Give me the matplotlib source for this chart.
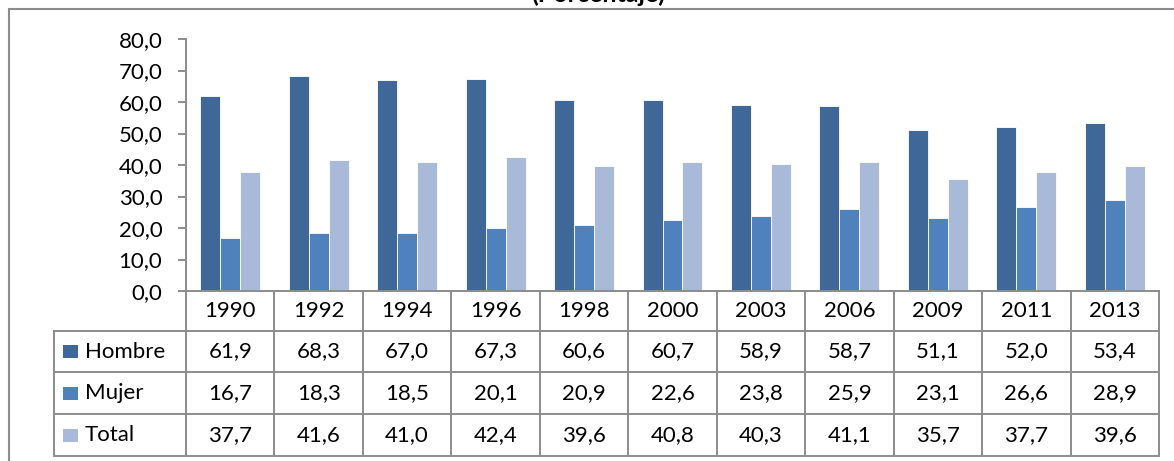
import matplotlib.pyplot as plt
from matplotlib.patches import Rectangle
from matplotlib.lines import Line2D
from matplotlib.transforms import blended_transform_factory
import numpy as np

years = ['1990', '1992', '1994', '1996', '1998', '2000', '2003', '2006', '2009', '2011', '2013']
hombre = [61.9, 68.3, 67.0, 67.3, 60.6, 60.7, 58.9, 58.7, 51.1, 52.0, 53.4]
mujer = [16.7, 18.3, 18.5, 20.1, 20.9, 22.6, 23.8, 25.9, 23.1, 26.6, 28.9]
total = [37.7, 41.6, 41.0, 42.4, 39.6, 40.8, 40.3, 41.1, 35.7, 37.7, 39.6]
series_names = ['Hombre', 'Mujer', 'Total']
colors = ['#3F6797', '#4F81BD', '#A9BAD9']

plt.rcParams['font.family'] = ['Lato', 'DejaVu Sans']
fs = 16

W, H = 1174, 461
fig = plt.figure(figsize=(W / 100, H / 100), dpi=100)


def fx(px):
    return px / W


def fy(py):
    return 1 - py / H


grid = '#8C8C8C'
x_left, x_right = 186, 1159
y_top, y_zero = 39, 291
ax = fig.add_axes([fx(x_left), fy(y_zero), fx(x_right - x_left), fy(y_top) - fy(y_zero)])

n = len(years)
x = np.arange(n)
bw = 0.226
for i, (vals, c) in enumerate(zip([hombre, mujer, total], colors)):
    ax.bar(x + (i - 1) * bw, vals, bw, color=c, edgecolor='white', linewidth=0.6, zorder=2)

ax.set_xlim(-0.5, n - 0.5)
ax.set_ylim(0, 80)
ax.set_yticks(np.arange(0, 81, 10))
ax.set_yticklabels([f'{v:.1f}'.replace('.', ',') for v in np.arange(0, 81, 10)], fontsize=fs)
ax.set_xticks([])
for s in ['top', 'right']:
    ax.spines[s].set_visible(False)
for s in ['left', 'bottom']:
    ax.spines[s].set_color(grid)
    ax.spines[s].set_linewidth(1.4)
ax.tick_params(axis='y', length=6, width=1.4, color=grid, pad=11)

# outer frame
fig.add_artist(Rectangle((fx(9), fy(470)), fx(1180), fy(9) - fy(470), transform=fig.transFigure,
                         fill=False, edgecolor=grid, linewidth=1.5))

fig.text(fx(598), fy(2), '(Porcentaje)', ha='center', va='baseline', fontsize=18, fontweight='bold')

# data table
rows = [291, 331, 372, 414, 456]
tbl_left = 54
bt = blended_transform_factory(ax.transData, fig.transFigure)
lw = 1.4
for r in rows[1:]:
    fig.add_artist(Line2D([fx(tbl_left), fx(x_right)], [fy(r), fy(r)], color=grid, lw=lw))
for b in np.arange(n + 1) - 0.5:
    fig.add_artist(Line2D([b, b], [fy(rows[0]), fy(rows[-1])], transform=bt, color=grid, lw=lw))
fig.add_artist(Line2D([fx(tbl_left), fx(tbl_left)], [fy(rows[1]), fy(rows[-1])], color=grid, lw=lw))

for j, yr in enumerate(years):
    fig.text(j, (fy(rows[0]) + fy(rows[1])) / 2, yr, transform=bt, ha='center', va='center', fontsize=fs)
for i, (name, vals, c) in enumerate(zip(series_names, [hombre, mujer, total], colors)):
    yc = (fy(rows[i + 1]) + fy(rows[i + 2])) / 2
    fig.add_artist(Rectangle((fx(63), yc - (fy(0) - fy(6.5))), fx(15), fy(0) - fy(13),
                             transform=fig.transFigure, facecolor=c, edgecolor='none'))
    fig.text(fx(85), yc, name, ha='left', va='center', fontsize=fs)
    for j, v in enumerate(vals):
        fig.text(j, yc, f'{v:.1f}'.replace('.', ','), transform=bt, ha='center', va='center', fontsize=fs)

fig.savefig('out.png', dpi=100)
